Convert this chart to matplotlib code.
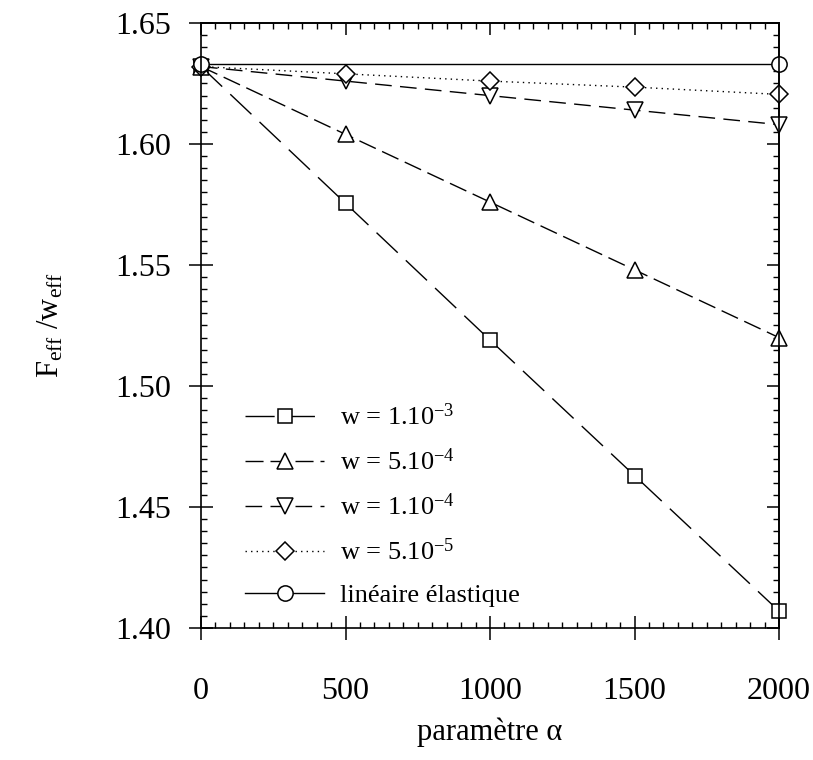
import matplotlib
matplotlib.use("Agg")
import matplotlib.pyplot as plt
from matplotlib.ticker import MultipleLocator

plt.rcParams['font.family'] = ['Liberation Serif', 'DejaVu Serif']
plt.rcParams['mathtext.fontset'] = 'custom'
plt.rcParams['mathtext.rm'] = 'Liberation Serif'
plt.rcParams['mathtext.it'] = 'Liberation Serif:italic'

# values
alpha = [0, 500, 1000, 1500, 2000]
w_1e3 = [1.632, 1.5755, 1.519, 1.463, 1.407]
w_5e4 = [1.632, 1.604, 1.576, 1.548, 1.520]
w_1e4 = [1.632, 1.626, 1.620, 1.614, 1.608]
w_5e5 = [1.632, 1.629, 1.626, 1.6235, 1.6205]
# the linear elastic reference only has points at both ends
alpha_lin = [0, 2000]
lin_el = [1.633, 1.633]

labels = [r'w = 1.10$^{-3}$', r'w = 5.10$^{-4}$', r'w = 1.10$^{-4}$',
          r'w = 5.10$^{-5}$', 'linéaire élastique']

fig = plt.figure(figsize=(8.13, 7.6), dpi=100)
ax = fig.add_axes([201/813, 1 - 628/760, 578/813, 605/760])

mk = dict(color='black', lw=1.0, markerfacecolor='white', markeredgecolor='black',
          markeredgewidth=1.1, clip_on=False)
ax.plot(alpha, w_1e3, marker='s', ms=9.5, dashes=(21, 8), label=labels[0], **mk)
ax.plot(alpha, w_5e4, marker='^', ms=11, dashes=(13, 5), label=labels[1], **mk)
ax.plot(alpha, w_1e4, marker='v', ms=11, dashes=(12, 6), label=labels[2], **mk)
ax.plot(alpha, w_5e5, marker='D', ms=9, dashes=(1, 3), label=labels[3], **mk)
ax.plot(alpha_lin, lin_el, marker='o', ms=11, linestyle='-', label=labels[4], **mk)

ax.set_xlim(0, 2000)
ax.set_ylim(1.40, 1.65)
ax.xaxis.set_major_locator(MultipleLocator(500))
ax.xaxis.set_minor_locator(MultipleLocator(50))
ax.yaxis.set_major_locator(MultipleLocator(0.05))
ax.yaxis.set_minor_locator(MultipleLocator(0.005))
ax.yaxis.set_major_formatter(plt.FormatStrFormatter('%.2f'))

for s in ax.spines.values():
    s.set_linewidth(1.2)

ax.tick_params(which='major', direction='inout', length=17, width=1.1,
               labelsize=23)
ax.tick_params(axis='x', which='major', pad=27)
ax.tick_params(axis='y', which='major', pad=13)
ax.tick_params(which='minor', direction='in', length=4.5, width=1.0)

# top and right: ticks pointing inward only
top = ax.secondary_xaxis('top')
top.xaxis.set_major_locator(MultipleLocator(500))
top.xaxis.set_minor_locator(MultipleLocator(50))
top.tick_params(which='major', direction='in', length=8.5, width=1.1, labeltop=False)
top.tick_params(which='minor', direction='in', length=4.5, width=1.0)
right = ax.secondary_yaxis('right')
right.yaxis.set_major_locator(MultipleLocator(0.05))
right.yaxis.set_minor_locator(MultipleLocator(0.005))
right.tick_params(which='major', direction='in', length=8.5, width=1.1, labelright=False)
right.tick_params(which='minor', direction='in', length=4.5, width=1.0)
top.spines['top'].set_linewidth(1.2)
right.spines['right'].set_linewidth(1.2)

ax.set_xlabel('paramètre α', fontsize=22, labelpad=8)
ax.set_ylabel(r'F$_{\rm eff}$ /w$_{\rm eff}$', fontsize=22, labelpad=36)

ax.legend(loc='upper left', bbox_to_anchor=(0.035, 0.41), frameon=False,
          fontsize=19, handlelength=3.0, handletextpad=0.6, labelspacing=0.7)

fig.savefig('out.png', dpi=100)
